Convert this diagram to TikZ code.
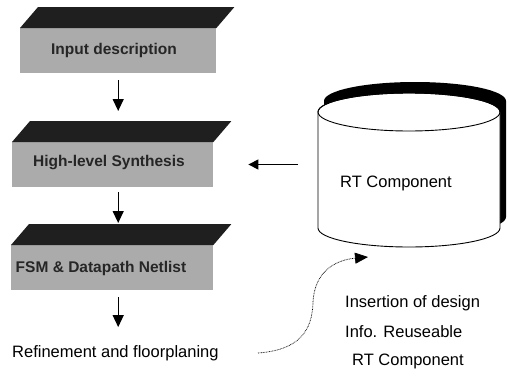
\documentclass[tikz,border=0pt]{standalone}
\usepackage{fontspec}
\setmainfont{Liberation Sans}
\usetikzlibrary{arrows.meta,calc}
\begin{document}
\begin{tikzpicture}[x=1pt,y=-1pt,
  front/.style={draw=none, fill=black!33, minimum height=45pt, inner sep=0pt, anchor=north west},
  topface/.style={fill=black!88},
  boxtext/.style={font=\fontsize{15.5}{18}\selectfont\bfseries, text=black!85, inner sep=0pt},
  plain/.style={font=\fontsize{16.5}{20}\selectfont, inner sep=0pt, anchor=west},
  arr/.style={line width=1.2pt, -{Triangle[length=12pt,width=11pt]}},
  dotline/.style={line width=0.7pt, dash pattern=on 0.8pt off 0.8pt, -{Triangle[length=13pt,width=11pt]}},
  cyl/.style={line width=0.9pt},
]
\useasboundingbox (0,0) rectangle (509,378);

% process boxes
\node[front, minimum width=196pt] (f1) at (20,28) {};
\node[front, minimum width=201pt] (f2) at (12,142) {};
\node[front, minimum width=202pt] (f3) at (11,245) {};
\foreach \b in {f1,f2,f3}{
  \fill[topface] (\b.north west) -- ($(\b.north west)+(18,-21)$) -- ($(\b.north east)+(18,-21)$) -- (\b.north east) -- cycle;
}
\coordinate (top2) at ($(f2.north west)+(18,-21)$);
\coordinate (top3) at ($(f3.north west)+(18,-21)$);
\node[boxtext] (t1) at (114,50) {Input description};
\node[boxtext] (t2) at (109,163) {High-level Synthesis};
\node[boxtext] (t3) at (101,268) {FSM \& Datapath Netlist};

\node[plain] (refine) at (12,353) {Refinement and floorplaning};

% vertical arrows
\draw[arr, shorten <=7pt, shorten >=10pt] (f1.south) -- (f1.south |- top2);
\draw[arr, shorten <=5pt, shorten >=1pt] (f1.south |- f2.south) -- (f1.south |- top3);
\draw[arr, shorten <=7pt, shorten >=18pt] (f1.south |- f3.south) -- (f1.south |- refine.north);

% cylinder with shadow
\fill[black] (324,101) -- (324,217) arc[start angle=180,end angle=360,x radius=91pt,y radius=19pt]
  -- (506,101) arc[start angle=0,end angle=180,x radius=91pt,y radius=19pt] -- cycle;
\filldraw[cyl, fill=white] (318,112) -- (318,228) arc[start angle=180,end angle=360,x radius=91pt,y radius=19pt]
  -- (500,112) arc[start angle=0,end angle=180,x radius=91pt,y radius=19pt] -- cycle;
\draw[cyl] (409,112) ellipse [x radius=91pt, y radius=19pt];
\node[plain] (rt) at (340,183) {RT Component};
\coordinate (cylW) at (318,164.5);

\draw[arr, -{Triangle[length=10pt,width=10pt]}, shorten <=20pt, shorten >=35pt] (cylW) -- (f2.east |- cylW);

% dotted insertion arrow
\coordinate (d0) at (258,353);
\coordinate (d1) at (368,257);
\draw[dotline] (d0) .. controls (300,350) and (312,330) .. (313,303) .. controls (314,272) and (335,260) .. (d1);

\node[plain] (ins1) at (345,303) {Insertion of design};
\node[plain] (ins2) at (345,332) {Info. Reuseable};
\node[plain] (ins3) at (352,361) {RT Component};
\end{tikzpicture}
\end{document}
